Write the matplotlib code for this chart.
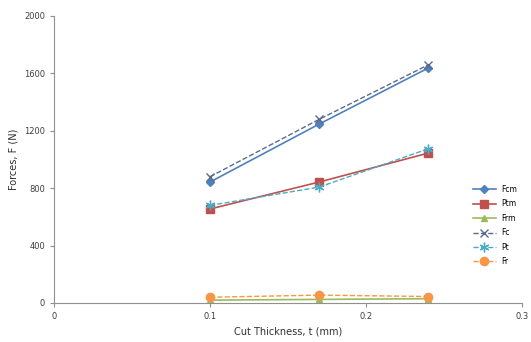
import matplotlib
matplotlib.use("Agg")
import matplotlib.pyplot as plt

t = [0.1, 0.17, 0.24]
fcm = [843, 1247, 1638]
ptm = [655, 843, 1045]
frm = [20, 25, 30]
fc = [880, 1280, 1660]
pt = [680, 808, 1075]
fr = [40, 55, 45]

fig = plt.figure(figsize=(5.31, 3.42), dpi=100)
ax = fig.add_axes([54 / 531, 1 - 303 / 342, (522 - 54) / 531, (303 - 16) / 342])

ax.plot(t, fcm, color="#4F81BD", marker="D", ms=4, lw=1.2, label="Fcm")
ax.plot(t, ptm, color="#C0504D", marker="s", ms=6, lw=1.2, label="Ptm")
ax.plot(t, frm, color="#9BBB59", marker="^", ms=5, lw=1.2, label="Frm")
ax.plot(t, fc, color="#5A6B8C", marker="x", ms=6, lw=1.0, ls="--", label="Fc")
ax.plot(t, pt, color="#4BACC6", marker=(6, 2, 0), ms=7, lw=1.0, ls="--", label="Pt")
ax.plot(t, fr, color="#F79646", marker="o", ms=6, lw=1.0, ls="--", label="Fr")

ax.set_xlim(0, 0.3)
ax.set_ylim(0, 2000)
ax.set_xticks([0, 0.1, 0.2, 0.3])
ax.set_xticklabels(["0", "0.1", "0.2", "0.3"])
ax.set_yticks([0, 400, 800, 1200, 1600, 2000])

for s in ["top", "right"]:
    ax.spines[s].set_visible(False)
for s in ["left", "bottom"]:
    ax.spines[s].set_color("#909090")
ax.tick_params(colors="#909090", labelcolor="#404040", labelsize=6, length=3)

ax.set_xlabel("Cut Thickness, t (mm)", fontsize=7, color="#303030")
ax.set_ylabel("Forces, F (N)", fontsize=7, color="#303030")

ax.legend(loc="center left", bbox_to_anchor=(0.88, 0.27), fontsize=5.5, frameon=False,
          handlelength=3, labelspacing=0.7)

fig.savefig("out.png", dpi=100)
